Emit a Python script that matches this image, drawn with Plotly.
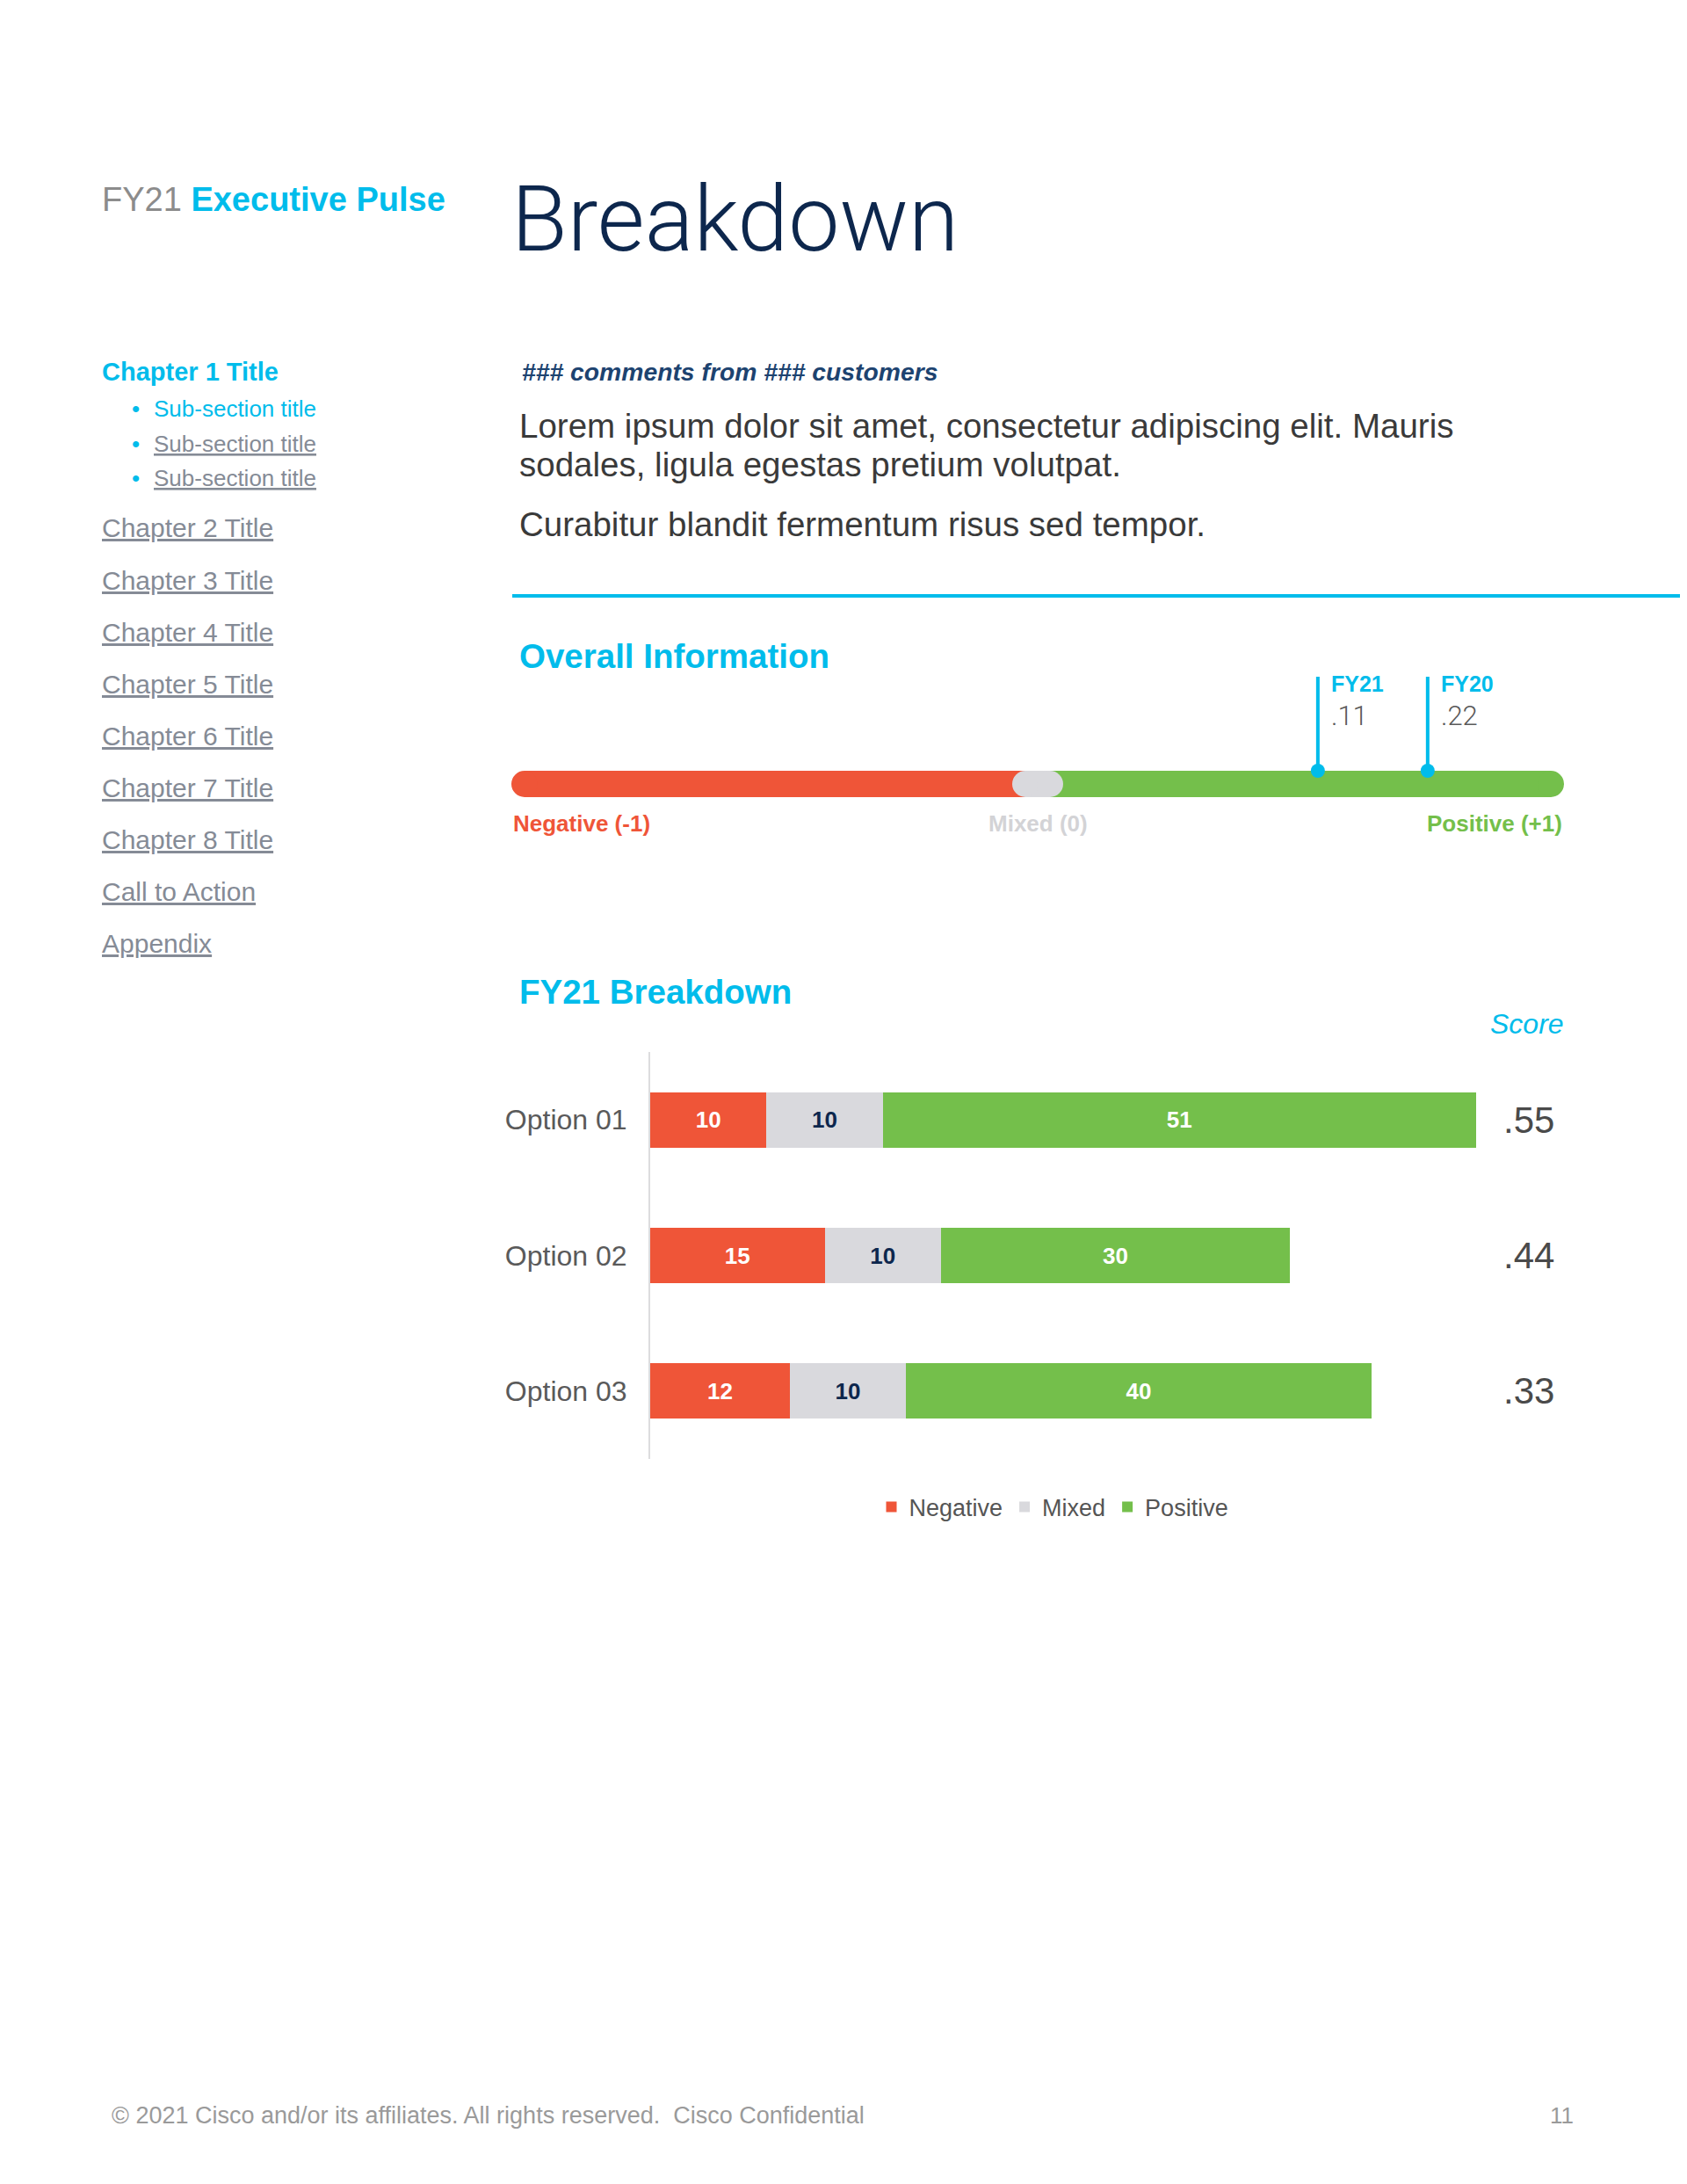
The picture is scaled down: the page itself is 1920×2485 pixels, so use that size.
import plotly.graph_objects as go

OFF = 8  # page body margin of the html document
W, H = 1920 - 2 * OFF, 2485 - 2 * OFF


def px(x):
    return (x - OFF) / W


def py(y):
    return 1 - (y - OFF) / H


CYAN = "#00BCEB"
NAVY = "#0D274D"
RED = "#EF5538"
GRAY = "#D9D9DD"
GREEN = "#74BF4B"
NAV_GRAY = "#858B96"
BODY = "#3A3A3A"
SANS = "Liberation Sans, Arial, sans-serif"
LIGHT = "Roboto, Liberation Sans, sans-serif"

# ---------------- data ----------------
options = ["Option 01", "Option 02", "Option 03"]
negative = [10, 15, 12]
mixed = [10, 10, 10]
positive = [51, 30, 40]
scores = [".55", ".44", ".33"]
series_names = ["Negative", "Mixed", "Positive"]

gauge_ticks = [-1, 0, 1]
gauge_labels = ["Negative (-1)", "Mixed (0)", "Positive (+1)"]
years = ["FY21", "FY20"]
year_positions = [0.546, 0.760]
year_scores = [".11", ".22"]

chapters = ["Chapter 2 Title", "Chapter 3 Title", "Chapter 4 Title", "Chapter 5 Title",
            "Chapter 6 Title", "Chapter 7 Title", "Chapter 8 Title", "Call to Action", "Appendix"]
subsections = ["Sub-section title", "Sub-section title", "Sub-section title"]

fig = go.Figure()

# ---------------- stacked bars ----------------
colors = [RED, GRAY, GREEN]
text_colors = ["white", NAVY, "white"]
for name, vals, c, tc in zip(series_names, [negative, mixed, positive], colors, text_colors):
    fig.add_trace(go.Bar(
        name=name, y=options, x=vals, orientation="h",
        marker=dict(color=c, line=dict(width=0)),
        width=0.41,
        texttemplate="<b>%{x}</b>", textposition="inside", insidetextanchor="middle",
        textangle=0, constraintext="none",
        textfont=dict(color=tc, size=26, family=SANS),
        xaxis="x", yaxis="y", hoverinfo="skip",
    ))

fig.update_layout(
    barmode="stack",
    width=W, height=H,
    margin=dict(l=0, r=0, t=0, b=0),
    paper_bgcolor="white", plot_bgcolor="white",
    font=dict(family=SANS, color=BODY),
    xaxis=dict(domain=[px(740), px(1799)], range=[0, 80], visible=False, fixedrange=True),
    yaxis=dict(domain=[py(1660), py(1197)], range=[2.5, -0.5], showline=True,
               linecolor="#DCDCDE", linewidth=2, showgrid=False, zeroline=False, ticks="",
               ticklabelstandoff=18, tickfont=dict(size=32, color="#5A5A5A", family=SANS),
               fixedrange=True, anchor="x"),
    xaxis2=dict(domain=[px(580), px(1782)], range=[-1.0291, 1.0291], visible=False,
                anchor="y2", fixedrange=True),
    yaxis2=dict(domain=[py(910), py(760)], range=[-18, 132], visible=False,
                anchor="x2", fixedrange=True),
    legend=dict(orientation="h", x=px(1199), xanchor="center", y=py(1715), yanchor="middle",
                font=dict(size=27, color="#555555", family=SANS), itemwidth=30,
                traceorder="normal", bgcolor="rgba(0,0,0,0)"),
    showlegend=True,
)

shapes = []
ann = []

# ---------------- gauge ----------------
shapes.append(dict(type="rect", xref="x2", yref="y2", x0=gauge_ticks[0], x1=gauge_ticks[1],
                   y0=-15, y1=15, fillcolor=RED, line=dict(width=0), layer="above"))
shapes.append(dict(type="rect", xref="x2", yref="y2", x0=gauge_ticks[1], x1=gauge_ticks[2],
                   y0=-15, y1=15, fillcolor=GREEN, line=dict(width=0), layer="above"))
for t, c in [(gauge_ticks[0], RED), (gauge_ticks[2], GREEN)]:
    shapes.append(dict(type="circle", xref="x2", yref="y2", xsizemode="pixel", xanchor=t,
                       x0=-15, x1=15, y0=-15, y1=15, fillcolor=c, line=dict(width=0),
                       layer="above"))
# mixed pill
shapes.append(dict(type="rect", xref="x2", yref="y2", xsizemode="pixel", xanchor=gauge_ticks[1],
                   x0=-14, x1=14, y0=-15, y1=15, fillcolor=GRAY, line=dict(width=0), layer="above"))
for a, b in [(-29, 1), (-1, 29)]:
    shapes.append(dict(type="circle", xref="x2", yref="y2", xsizemode="pixel",
                       xanchor=gauge_ticks[1], x0=a, x1=b, y0=-15, y1=15, fillcolor=GRAY,
                       line=dict(width=0), layer="above"))
# year markers
for yname, pos, sc in zip(years, year_positions, year_scores):
    shapes.append(dict(type="line", xref="x2", yref="y2", x0=pos, x1=pos, y0=15, y1=122,
                       line=dict(color=CYAN, width=4), layer="above"))
    shapes.append(dict(type="circle", xref="x2", yref="y2", xsizemode="pixel", xanchor=pos,
                       x0=-8, x1=8, y0=7, y1=23, fillcolor=CYAN, line=dict(width=0),
                       layer="above"))
    ann.append(dict(xref="x2", yref="paper", x=pos, y=py(778), xanchor="left", yanchor="middle",
                    xshift=13, text="<b>" + yname + "</b>", showarrow=False,
                    font=dict(size=25, color=CYAN, family=SANS)))
    ann.append(dict(xref="x2", yref="paper", x=pos, y=py(814), xanchor="left", yanchor="middle",
                    xshift=13, text=sc, showarrow=False,
                    font=dict(size=31, color="#5A5A5A", family=LIGHT, weight=300)))

gl_colors = [RED, "#D3D3D6", GREEN]
gl_anchor = ["left", "center", "right"]
gl_shift = [-15, 0, 15]
for t, lab, c, a, s in zip(gauge_ticks, gauge_labels, gl_colors, gl_anchor, gl_shift):
    ann.append(dict(xref="x2", yref="paper", x=t, y=py(937), xanchor=a, yanchor="middle",
                    xshift=s, text="<b>" + lab + "</b>", showarrow=False,
                    font=dict(size=26, color=c, family=SANS)))

# ---------------- scores ----------------
for o, s in zip(options, scores):
    ann.append(dict(xref="paper", yref="y", x=px(1740), y=o, xanchor="center", yanchor="middle",
                    text=s, showarrow=False, font=dict(size=42, color="#4A4A4A", family=SANS)))

# ---------------- page text ----------------
def text(x, y, t, size, color, anchor="left", family=SANS, weight=None):
    f = dict(size=size, color=color, family=family)
    if weight is not None:
        f["weight"] = weight
    ann.append(dict(xref="paper", yref="paper", x=px(x), y=py(y), xanchor=anchor,
                    yanchor="middle", text=t, showarrow=False, font=f))


text(114, 227, "<span style='color:#8C8C8C'>FY21</span> <b>Executive Pulse</b>", 38, CYAN)
text(580, 249, "Breakdown", 104, NAVY, family=LIGHT, weight=300)

text(114, 423, "<b>Chapter 1 Title</b>", 29, CYAN)
for i, s in enumerate(subsections):
    yy = 465 + i * 39.5
    text(154, yy, "•", 26, CYAN, anchor="center")
    if i == 0:
        text(173, yy, s, 26, CYAN)
    else:
        text(173, yy, "<u>" + s + "</u>", 26, NAV_GRAY)
for i, c in enumerate(chapters):
    text(114, 601 + i * 59.1, "<u>" + c + "</u>", 30, NAV_GRAY)

text(592, 423, "<b><i>### comments from ### customers</i></b>", 28.3, "#1D4370")
text(589, 485, "Lorem ipsum dolor sit amet, consectetur adipiscing elit. Mauris", 38.5, BODY)
text(589, 528, "sodales, ligula egestas pretium volutpat.", 38.5, BODY)
text(589, 596, "Curabitur blandit fermentum risus sed tempor.", 38.5, BODY)

shapes.append(dict(type="line", xref="paper", yref="paper", x0=px(583), x1=1, y0=py(678),
                   y1=py(678), line=dict(color=CYAN, width=4)))

text(589, 747, "<b>Overall Information</b>", 38.5, CYAN)
text(589, 1129, "<b>FY21 Breakdown</b>", 38.5, CYAN)
text(1782, 1165, "<i>Score</i>", 32, CYAN, anchor="right")

text(125, 2407, "© 2021 Cisco and/or its affiliates. All rights reserved.  Cisco Confidential",
     27, "#9A9A9A")
text(1777, 2407, "11", 26, "#9A9A9A", anchor="center")

fig.update_layout(shapes=shapes, annotations=ann)

fig.write_html("out.html")
